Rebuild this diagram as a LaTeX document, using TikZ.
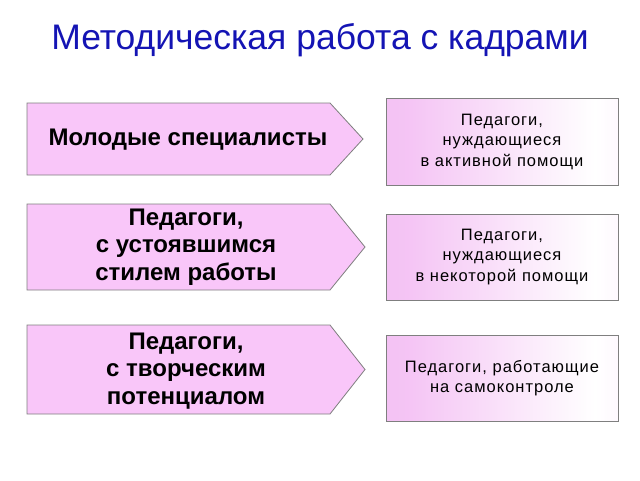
\documentclass[tikz,border=0pt]{standalone}
\usepackage{fontspec}
\setmainfont{Liberation Sans}
\usepackage{tikz}
\usepackage{xcolor}
\definecolor{arrowpink}{HTML}{F9C6F9}
\definecolor{boxpink}{HTML}{F2B6F2}
\definecolor{titleblue}{HTML}{1414B4}
\definecolor{edgegray}{HTML}{7F7F7F}
\newfontfamily\spacedfont[LetterSpace=6]{Liberation Sans}
\pgfdeclarehorizontalshading{boxshade}{100bp}{color(0bp)=(boxpink); color(30bp)=(boxpink!80!white); color(70bp)=(white); color(100bp)=(boxpink!55!white)}
\tikzset{
  pointer/.style={draw=edgegray, fill=arrowpink, line width=0.8pt},
  groupbox/.style={draw=edgegray, shading=boxshade, line width=0.8pt, rectangle,
    minimum width=232pt, minimum height=86pt, align=center, font=\spacedfont\fontsize{16.5}{20.5}\selectfont},
  grouptext/.style={align=center, font=\bfseries\fontsize{24}{27.5}\selectfont}
}

\begin{document}
\begin{tikzpicture}[x=1pt, y=-1pt]
\useasboundingbox (0,0) rectangle (640,480);
\node (title) [text=titleblue, font=\fontsize{35.5}{40}\selectfont] at (320,40) {Методическая работа с кадрами};
% left arrows
\draw [pointer] (27,103) -- (330,103) -- (363,139) -- (330,175) -- (27,175) -- cycle;
\draw [pointer] (27,204) -- (330,204) -- (365,247) -- (330,290) -- (27,290) -- cycle;
\draw [pointer] (27,325) -- (330,325) -- (365,369.5) -- (330,414) -- (27,414) -- cycle;
\node (young) [grouptext] at (188,140) {Молодые специалисты};
\node (settled) [grouptext] at (186,247) {Педагоги,\\с устоявшимся\\стилем работы};
\node (creative) [grouptext] at (186,371) {Педагоги,\\с творческим\\потенциалом};
% right boxes
\node (active) [groupbox, minimum height=87pt] at (502,141.5) {Педагоги,\\нуждающиеся\\в активной помощи};
\node (some) [groupbox] at (502,257) {Педагоги,\\нуждающиеся\\в некоторой помощи};
\node (self) [groupbox] at (502,378) {Педагоги, работающие\\на самоконтроле};
\end{tikzpicture}
\end{document}
